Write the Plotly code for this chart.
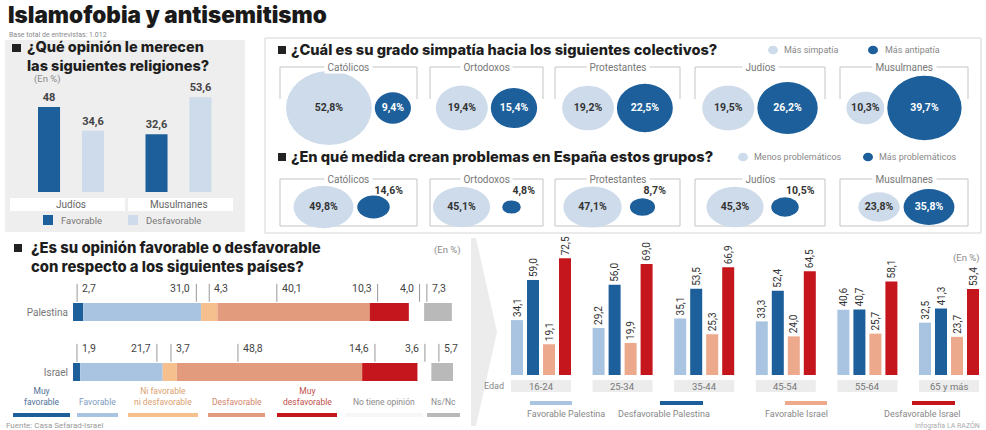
import math
import plotly.graph_objects as go

W, H = 986, 430
def px(x): return x / W
def py(y): return 1 - y / H

# ---------------- DATA ----------------
religiones = ["Judíos", "Musulmanes"]
religion_favorable = [48, 32.6]
religion_desfavorable = [34.6, 53.6]

colectivos = ["Católicos", "Ortodoxos", "Protestantes", "Judíos", "Musulmanes"]
mas_simpatia = [52.8, 19.4, 19.2, 19.5, 10.3]
mas_antipatia = [9.4, 15.4, 22.5, 26.2, 39.7]
menos_problematicos = [49.8, 45.1, 47.1, 45.3, 23.8]
mas_problematicos = [14.6, 4.8, 8.7, 10.5, 35.8]

paises = ["Israel", "Palestina"]
opiniones = ["Muy<br>favorable", "Favorable", "Ni favorable<br>ni desfavorable", "Desfavorable",
             "Muy<br>desfavorable", "No tiene opinión", "Ns/Nc"]
opinion_israel = [1.9, 21.7, 3.7, 48.8, 14.6, 3.6, 5.7]
opinion_palestina = [2.7, 31.0, 4.3, 40.1, 10.3, 4.0, 7.3]

edades = ["16-24", "25-34", "35-44", "45-54", "55-64", "65 y más"]
favorable_palestina = [34.1, 29.2, 35.1, 33.3, 40.6, 32.5]
desfavorable_palestina = [59.0, 56.0, 53.5, 52.4, 40.7, 41.3]
favorable_israel = [19.1, 19.9, 25.3, 24.0, 25.7, 23.7]
desfavorable_israel = [72.5, 69.0, 66.9, 64.5, 58.1, 53.4]
series_edad_names = ["Favorable Palestina", "Desfavorable Palestina", "Favorable Israel", "Desfavorable Israel"]

# ---------------- STYLE ----------------
FONT = "Roboto, 'Liberation Sans', Arial, sans-serif"
HEAVY = "Inter, Roboto, Arial, sans-serif"
DARK = "#1c5f9b"
LIGHT = "#a9c4e0"
PALE = "#cddbea"
SALMON = "#eda98b"
RED = "#c4161c"
GRAYT = "#777777"
opinion_colors = [DARK, LIGHT, "#f6c08e", "#e39b7e", RED, "#ffffff", "#b9b9b9"]
opinion_text_colors = ["#4f7196", "#7f9cc0", "#dba070", "#d4856b", "#c0504d", "#8a8a8a", "#8a8a8a"]
edad_colors = [LIGHT, DARK, SALMON, RED]

def c1(v):
    return str(v).replace(".", ",")
def c2(v):
    return f"{v:.1f}".replace(".", ",")

shapes, annos = [], []

def txt(x, y, s, size=10, color=GRAYT, anchor="center", yanchor="middle", weight=None, bg=None,
        xref="paper", family=FONT, align="center"):
    f = dict(size=size, color=color, family=family)
    if weight:
        f["weight"] = weight
    d = dict(x=(px(x) if xref == "paper" else x), y=py(y), xref=xref, yref="paper", text=s,
             showarrow=False, xanchor=anchor, yanchor=yanchor, font=f, borderpad=0, align=align)
    if bg:
        d["bgcolor"] = bg
    annos.append(d)

def rect(x0, y0, x1, y1, fill=None, line=None, lw=1, layer="below"):
    shapes.append(dict(type="rect", xref="paper", yref="paper", x0=px(x0), x1=px(x1), y0=py(y1), y1=py(y0),
                       fillcolor=fill if fill else "rgba(0,0,0,0)",
                       line=dict(color=line if line else "rgba(0,0,0,0)", width=lw if line else 0), layer=layer))

def hline(x0, x1, y, color, w=4):
    shapes.append(dict(type="line", xref="paper", yref="paper", x0=px(x0), x1=px(x1), y0=py(y), y1=py(y),
                       line=dict(color=color, width=w), layer="above"))

def heading(x, y, s, size=14.5):
    txt(x, y, s, size=size, color="#1e1e1e", anchor="left", weight=800, family=HEAVY, align="left")

fig = go.Figure()

# ---------------- Header ----------------
txt(7, 14, "Islamofobia y antisemitismo", size=22.5, color="#1a1a1a", anchor="left", weight=900, family=HEAVY)
txt(8, 35, "Base total de entrevistas: 1.012", size=7, color="#8a8a8a", anchor="left")

# ---------------- Panel 1: religiones ----------------
rect(5, 40, 245, 232, fill="#eeeeee")
rect(12, 44, 21, 52, fill="#222222", layer="above")
heading(26, 56, "¿Qué opinión le merecen<br>las siguientes religiones?")
txt(33, 79, "(En %)", size=9.5, color="#8a8a8a", anchor="left")

fig.add_trace(go.Bar(x=religiones, y=religion_favorable, width=0.205, offset=-0.307, marker_color=DARK,
                     marker_line_width=0, text=[f"<b>{c1(v)}</b>" for v in religion_favorable],
                     textposition="outside", constraintext="none", cliponaxis=False,
                     textfont=dict(size=11, color="#444", family=FONT), xaxis="x", yaxis="y"))
fig.add_trace(go.Bar(x=religiones, y=religion_desfavorable, width=0.205, offset=0.102, marker_color=PALE,
                     marker_line_width=0, text=[f"<b>{c1(v)}</b>" for v in religion_desfavorable],
                     textposition="outside", constraintext="none", cliponaxis=False,
                     textfont=dict(size=11, color="#444", family=FONT), xaxis="x", yaxis="y"))
rect(10, 198, 125, 211, fill="#ffffff")
rect(128, 198, 233, 211, fill="#ffffff")
for r in religiones:
    txt(r, 204.5, r, size=10, color="#666", xref="x")
rect(43, 215, 53, 225, fill=DARK, layer="above")
txt(60, 220, "Favorable", size=9.5, color="#777", anchor="left")
rect(128, 215, 138, 225, fill=PALE, layer="above")
txt(145, 220, "Desfavorable", size=9.5, color="#777", anchor="left")

# ---------------- Panel 2: bubbles ----------------
rect(265, 38, 981, 233, fill="#ffffff", line="#d6d6d6")
rect(278, 46, 286, 54, fill="#222222", layer="above")
heading(290, 50, "¿Cuál es su grado simpatía hacia los siguientes colectivos?", size=14.6)
rect(278, 153, 286, 161, fill="#222222", layer="above")
heading(290, 157, "¿En qué medida crean problemas en España estos grupos?", size=14.6)

def dot(x, y, r, color):
    shapes.append(dict(type="circle", xref="paper", yref="paper", x0=px(x - r), x1=px(x + r),
                       y0=py(y + r * 0.85), y1=py(y - r * 0.85), fillcolor=color, line_width=0, layer="above"))
dot(773, 50, 5, PALE); txt(783, 50, "Más simpatía", size=9, color="#888", anchor="left")
dot(873, 50, 5, DARK); txt(884, 50, "Más antipatía", size=9, color="#888", anchor="left")
dot(743, 157, 5, PALE); txt(753, 157, "Menos problemáticos", size=9, color="#888", anchor="left")
dot(868, 157, 5, DARK); txt(878, 157, "Más problemáticos", size=9, color="#888", anchor="left")

box_spans = [(280, 417), (430, 543), (555, 680), (695, 825), (840, 968)]
BOXC = "#c4c4c4"
for (a, b) in box_spans:
    shapes.append(dict(type="path", xref="x2", yref="y2", path=f"M {a},99 L {a},67 L {b},67 L {b},99",
                       line=dict(color=BOXC, width=1), layer="below"))
    shapes.append(dict(type="rect", xref="x2", yref="y2", x0=a, x1=b, y0=179, y1=226,
                       line=dict(color=BOXC, width=1), fillcolor="rgba(0,0,0,0)", layer="below"))

def ellipse(xc, yc, rx, ry, color):
    shapes.append(dict(type="circle", xref="x2", yref="y2", x0=xc - rx, x1=xc + rx, y0=yc - ry, y1=yc + ry,
                       fillcolor=color, line_width=0, layer="below"))

# row 1
Y1, KX1, KY1, GAP1 = 108, 5.9, 5.1, 3
lx, ly, lt, lc, lp = [], [], [], [], []
for i, (a, b) in enumerate(box_spans):
    c = (a + b) / 2
    rl, rd = KX1 * math.sqrt(mas_simpatia[i]), KX1 * math.sqrt(mas_antipatia[i])
    total = 2 * rl + GAP1 + 2 * rd
    xl = c - total / 2 + rl
    xd = xl + rl + GAP1 + rd
    ellipse(xl, Y1, rl, rl * KY1 / KX1, PALE)
    ellipse(xd, Y1, rd, rd * KY1 / KX1, DARK)
    lx += [xl, xd]; ly += [Y1, Y1]
    lt += [f"<b>{c2(mas_simpatia[i])}%</b>", f"<b>{c2(mas_antipatia[i])}%</b>"]
    lc += ["#333333", "#ffffff"]; lp += ["middle center", "middle center"]
    txt((a + b) / 2, 67, f" {colectivos[i]} ", size=10, color="#777", bg="#ffffff")

# row 2
Y2, KX2, KY2 = 207, 4.25, 3.0
for i, (a, b) in enumerate(box_spans):
    c = (a + b) / 2
    rl, rd = KX2 * math.sqrt(menos_problematicos[i]), KX2 * math.sqrt(mas_problematicos[i])
    xl, xd = c - 25, c + 25
    ellipse(xl, Y2, rl, rl * KY2 / KX2, PALE)
    ellipse(xd, Y2, rd, rd * KY2 / KX2, DARK)
    lx.append(xl); ly.append(Y2); lt.append(f"<b>{c2(menos_problematicos[i])}%</b>")
    lc.append("#333333"); lp.append("middle center")
    if mas_problematicos[i] < 20:
        lx.append(xd + 1); ly.append(191); lc.append("#333333"); lp.append("middle right")
    else:
        lx.append(xd); ly.append(Y2); lc.append("#ffffff"); lp.append("middle center")
    lt.append(f"<b>{c2(mas_problematicos[i])}%</b>")
    txt((a + b) / 2, 179, f" {colectivos[i]} ", size=10, color="#777", bg="#ffffff")

fig.add_trace(go.Scatter(x=lx, y=ly, mode="text", text=lt, textposition=lp,
                         textfont=dict(size=10.5, color=lc, family=FONT), xaxis="x2", yaxis="y2",
                         hoverinfo="skip"))

# ---------------- Panel 3: stacked opinion by country ----------------
rect(14, 244, 22, 252, fill="#222222", layer="above")
heading(30, 257, "¿Es su opinión favorable o desfavorable<br>con respecto a los siguientes países?", size=14.8)
txt(433, 250, "(En %)", size=9.5, color="#8a8a8a", anchor="left")

vals_by_country = [opinion_israel, opinion_palestina]
cums = []
for vals in vals_by_country:
    cum, s = [], 0.0
    for v in vals:
        cum.append(s); s += v
    cums.append(cum)
for k in range(len(opiniones)):
    fig.add_trace(go.Bar(y=paises, x=[vals_by_country[0][k], vals_by_country[1][k]],
                         base=[cums[0][k], cums[1][k]], orientation="h", width=0.3,
                         marker_color=opinion_colors[k], marker_line_width=0,
                         xaxis="x4", yaxis="y4", hoverinfo="skip"))

leader_frac = [[0.55, 0.93, 0.59, 0.33, 0.23, 0.53, 0.35],   # Israel
               [0.40, 0.96, 0.50, 0.39, 0.20, 0.70, 0.10]]   # Palestina
label_side = [["r", "l", "r", "r", "l", "l", "r"],
              ["r", "l", "r", "r", "l", "l", "r"]]
for ci in range(2):
    for k, v in enumerate(vals_by_country[ci]):
        xl = cums[ci][k] + leader_frac[ci][k] * v
        shapes.append(dict(type="line", xref="x4", yref="y4", x0=xl, x1=xl, y0=ci + 0.17, y1=ci + 0.47,
                           line=dict(color="#999", width=1), layer="above"))
        r = label_side[ci][k] == "r"
        annos.append(dict(x=xl, y=ci + 0.39, xref="x4", yref="y4", text=c2(v), showarrow=False,
                          xanchor="left" if r else "right", xshift=3 if r else -4,
                          font=dict(size=10.5, color="#444", family=FONT)))

leg_spans = [(13, 70), (77, 118), (128, 198), (208, 265), (277, 337), (345, 423), (427, 460)]
for k, (a, b) in enumerate(leg_spans):
    col = opinion_colors[k] if opinion_colors[k] != "#ffffff" else "#f7f7f7"
    hline(a, b, 415, col, 4)
    txt((a + b) / 2, 408, opiniones[k], size=8.5, color=opinion_text_colors[k], yanchor="bottom")
txt(5, 425, "Fuente: Casa Sefarad-Israel", size=8, color="#9a9a9a", anchor="left")

# ---------------- Panel 4: grouped by age ----------------
shapes.append(dict(type="path", xref="paper", yref="paper",
                   path=f"M {px(471)},{py(238)} L {px(476)},{py(238)} L {px(497)},{py(332)} "
                        f"L {px(476)},{py(426)} L {px(471)},{py(426)} Z",
                   fillcolor="#ececec", line_width=0, layer="below"))
age_series = [favorable_palestina, desfavorable_palestina, favorable_israel, desfavorable_israel]
UNIT = 81.6
for k, ser in enumerate(age_series):
    fig.add_trace(go.Bar(x=edades, y=ser, width=12 / UNIT, offset=(-30 + 16 * k) / UNIT,
                         marker_color=edad_colors[k], marker_line_width=0, name=series_edad_names[k],
                         text=[c2(v) for v in ser], textposition="outside", textangle=-90,
                         constraintext="none", cliponaxis=False,
                         textfont=dict(size=10, color="#333", family=FONT),
                         xaxis="x5", yaxis="y5", hoverinfo="skip"))
for i, e in enumerate(edades):
    cx = 541 + UNIT * i
    rect(cx - 30, 380, cx + 30, 392, fill="#ececec")
    txt(e, 386, e, size=9.5, color="#777", xref="x5")
txt(483, 386, "Edad", size=9, color="#888", anchor="left")
txt(981, 258, "(En %)", size=9.5, color="#8a8a8a", anchor="right")
leg2_lines = [(530, 572), (660, 703), (785, 827), (912, 955)]
leg2_text = [566, 664, 796, 922]
for k in range(4):
    hline(leg2_lines[k][0], leg2_lines[k][1], 403, edad_colors[k], 4)
    txt(leg2_text[k], 414, series_edad_names[k], size=9, color="#888")
txt(981, 425, "Infografía LA RAZÓN", size=7, color="#aaa", anchor="right")

# ---------------- Layout ----------------
hidden = dict(visible=False, showgrid=False, zeroline=False, fixedrange=True)
fig.update_layout(
    width=W, height=H, margin=dict(l=0, r=0, t=0, b=0), autosize=False,
    paper_bgcolor="#ffffff", plot_bgcolor="rgba(0,0,0,0)", showlegend=False, barmode="overlay",
    font=dict(family=FONT),
    xaxis=dict(hidden, type="category", domain=[px(17.25), px(232.25)], range=[-0.5, 1.5], anchor="y"),
    yaxis=dict(hidden, domain=[py(192), py(80)], range=[0, (192 - 80) / 1.77], anchor="x"),
    xaxis2=dict(hidden, domain=[0, 1], range=[0, W], anchor="y2"),
    yaxis2=dict(hidden, domain=[0, 1], range=[H, 0], anchor="x2"),
    xaxis4=dict(hidden, domain=[px(73), px(453)], range=[0, 100], anchor="y4"),
    yaxis4=dict(visible=True, showgrid=False, zeroline=False, showline=False, ticks="",
                type="category", categoryarray=paises, domain=[py(402), py(282)], range=[-0.5, 1.5],
                anchor="x4", tickfont=dict(size=10, color="#777", family=FONT), ticklabelstandoff=4),
    xaxis5=dict(hidden, type="category", domain=[px(480), 1], range=[(480 - 541) / UNIT, (986 - 541) / UNIT],
                anchor="y5"),
    yaxis5=dict(hidden, domain=[py(375), py(245)], range=[0, (375 - 245) / 1.61], anchor="x5"),
    shapes=shapes, annotations=annos,
)

fig.write_html("out.html")
